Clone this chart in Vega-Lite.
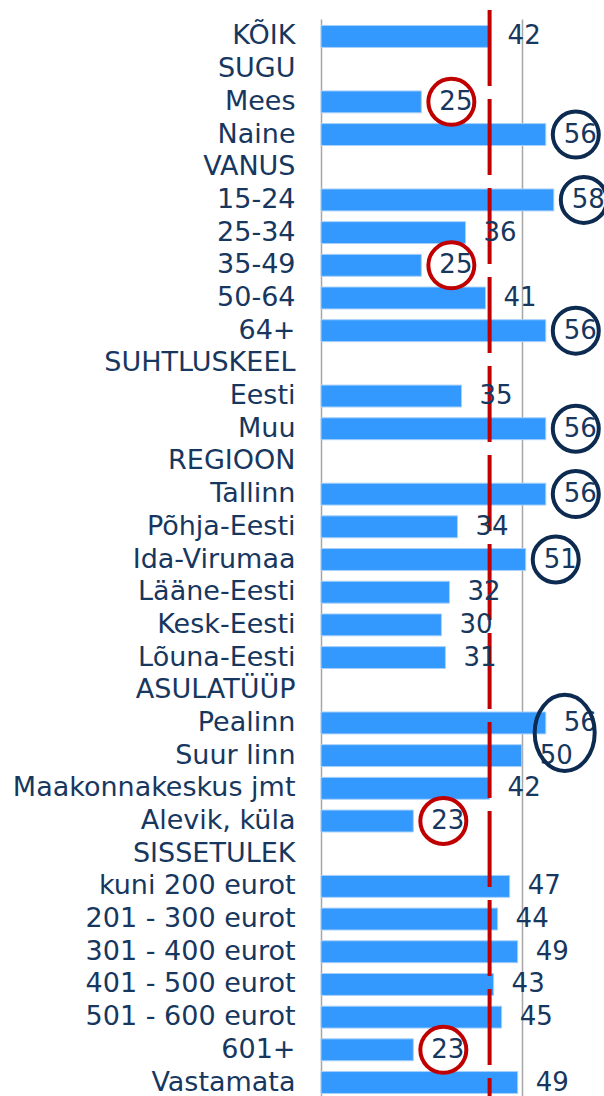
{
  "$schema": "https://vega.github.io/schema/vega-lite/v6.json",
  "width": 283,
  "height": 1081,
  "autosize": "none",
  "padding": {"left": 321, "top": 19, "right": 0, "bottom": 0},
  "background": "white",
  "config": {
    "view": {"stroke": null},
    "font": "DejaVu Sans",
    "axisY": {
      "ticks": false, "domainColor": "#A6A6A6", "domainWidth": 1.5,
      "labelFont": "DejaVu Sans", "labelFontSize": 27, "labelColor": "#17375E",
      "labelPadding": 26, "labelLimit": 400, "grid": false
    },
    "axisX": {
      "grid": true, "gridColor": "#A6A6A6", "gridWidth": 1.5,
      "labels": false, "ticks": false, "domain": false
    }
  },
  "datasets": {
    "rows": [
      {"label": "KÕIK", "value": 42, "hl": ""},
      {"label": "SUGU", "value": null, "hl": ""},
      {"label": "Mees", "value": 25, "hl": "low"},
      {"label": "Naine", "value": 56, "hl": "high"},
      {"label": "VANUS", "value": null, "hl": ""},
      {"label": "15-24", "value": 58, "hl": "high"},
      {"label": "25-34", "value": 36, "hl": ""},
      {"label": "35-49", "value": 25, "hl": "low"},
      {"label": "50-64", "value": 41, "hl": ""},
      {"label": "64+", "value": 56, "hl": "high"},
      {"label": "SUHTLUSKEEL", "value": null, "hl": ""},
      {"label": "Eesti", "value": 35, "hl": ""},
      {"label": "Muu", "value": 56, "hl": "high"},
      {"label": "REGIOON", "value": null, "hl": ""},
      {"label": "Tallinn", "value": 56, "hl": "high"},
      {"label": "Põhja-Eesti", "value": 34, "hl": ""},
      {"label": "Ida-Virumaa", "value": 51, "hl": "high"},
      {"label": "Lääne-Eesti", "value": 32, "hl": ""},
      {"label": "Kesk-Eesti", "value": 30, "hl": ""},
      {"label": "Lõuna-Eesti", "value": 31, "hl": ""},
      {"label": "ASULATÜÜP", "value": null, "hl": ""},
      {"label": "Pealinn", "value": 56, "hl": "pair"},
      {"label": "Suur linn", "value": 50, "hl": ""},
      {"label": "Maakonnakeskus jmt", "value": 42, "hl": ""},
      {"label": "Alevik, küla", "value": 23, "hl": "low"},
      {"label": "SISSETULEK", "value": null, "hl": ""},
      {"label": "kuni 200 eurot", "value": 47, "hl": ""},
      {"label": "201 - 300 eurot", "value": 44, "hl": ""},
      {"label": "301 - 400 eurot", "value": 49, "hl": ""},
      {"label": "401 - 500 eurot", "value": 43, "hl": ""},
      {"label": "501 - 600 eurot", "value": 45, "hl": ""},
      {"label": "601+", "value": 23, "hl": "low"},
      {"label": "Vastamata", "value": 49, "hl": ""}
    ],
    "average": [{"avg": 42}]
  },
  "layer": [
    {
      "data": {"name": "rows"},
      "mark": {"type": "bar", "color": "#3399FF", "stroke": "#A8D0F8", "strokeWidth": 1},
      "encoding": {
        "y": {
          "field": "label", "type": "nominal", "title": null,
          "scale": {
            "domain": ["KÕIK","SUGU","Mees","Naine","VANUS","15-24","25-34","35-49","50-64","64+","SUHTLUSKEEL","Eesti","Muu","REGIOON","Tallinn","Põhja-Eesti","Ida-Virumaa","Lääne-Eesti","Kesk-Eesti","Lõuna-Eesti","ASULATÜÜP","Pealinn","Suur linn","Maakonnakeskus jmt","Alevik, küla","SISSETULEK","kuni 200 eurot","201 - 300 eurot","301 - 400 eurot","401 - 500 eurot","501 - 600 eurot","601+","Vastamata"],
            "paddingInner": 0.33, "paddingOuter": 0.2
          }
        },
        "x": {
          "field": "value", "type": "quantitative", "title": null,
          "scale": {"domain": [0, 70.5], "nice": false, "zero": true},
          "axis": {"values": [50]}
        }
      }
    },
    {
      "data": {"name": "average"},
      "mark": {"type": "rule", "color": "#C00000", "strokeWidth": 4, "strokeDash": [76, 13], "yOffset": -9},
      "encoding": {"x": {"field": "avg", "type": "quantitative", "title": null, "axis": {"values": [50]}}}
    },
    {
      "data": {"name": "rows"},
      "transform": [{"filter": "isValid(datum.value)"}],
      "mark": {"type": "text", "align": "left", "baseline": "middle", "dx": 18, "fontSize": 26, "font": "DejaVu Sans", "color": "#17375E"},
      "encoding": {
        "y": {"field": "label", "type": "nominal", "title": null},
        "x": {"field": "value", "type": "quantitative", "title": null, "axis": {"values": [50]}},
        "text": {"field": "value", "type": "quantitative"}
      }
    },
    {
      "data": {"name": "rows"},
      "transform": [{"filter": "datum.hl === 'low' || datum.hl === 'high'"}],
      "mark": {"type": "point", "shape": "circle", "filled": false, "size": 2116, "strokeWidth": 4, "opacity": 1, "xOffset": 30},
      "encoding": {
        "y": {"field": "label", "type": "nominal", "title": null},
        "x": {"field": "value", "type": "quantitative", "title": null, "axis": {"values": [50]}},
        "color": {"field": "hl", "type": "nominal", "scale": {"domain": ["low", "high"], "range": ["#C00000", "#0D2B50"]}, "legend": null}
      }
    },
    {
      "data": {"name": "rows"},
      "transform": [{"filter": "datum.hl === 'pair'"}],
      "mark": {"type": "point", "shape": "M 1.63,0.33 A 1,1.27 0 1,1 -0.37,0.33 A 1,1.27 0 1,1 1.63,0.33 Z", "filled": false, "size": 3600, "strokeWidth": 4, "opacity": 1, "color": "#0D2B50"},
      "encoding": {
        "y": {"field": "label", "type": "nominal", "title": null},
        "x": {"field": "value", "type": "quantitative", "title": null, "axis": {"values": [50]}}
      }
    }
  ]
}
